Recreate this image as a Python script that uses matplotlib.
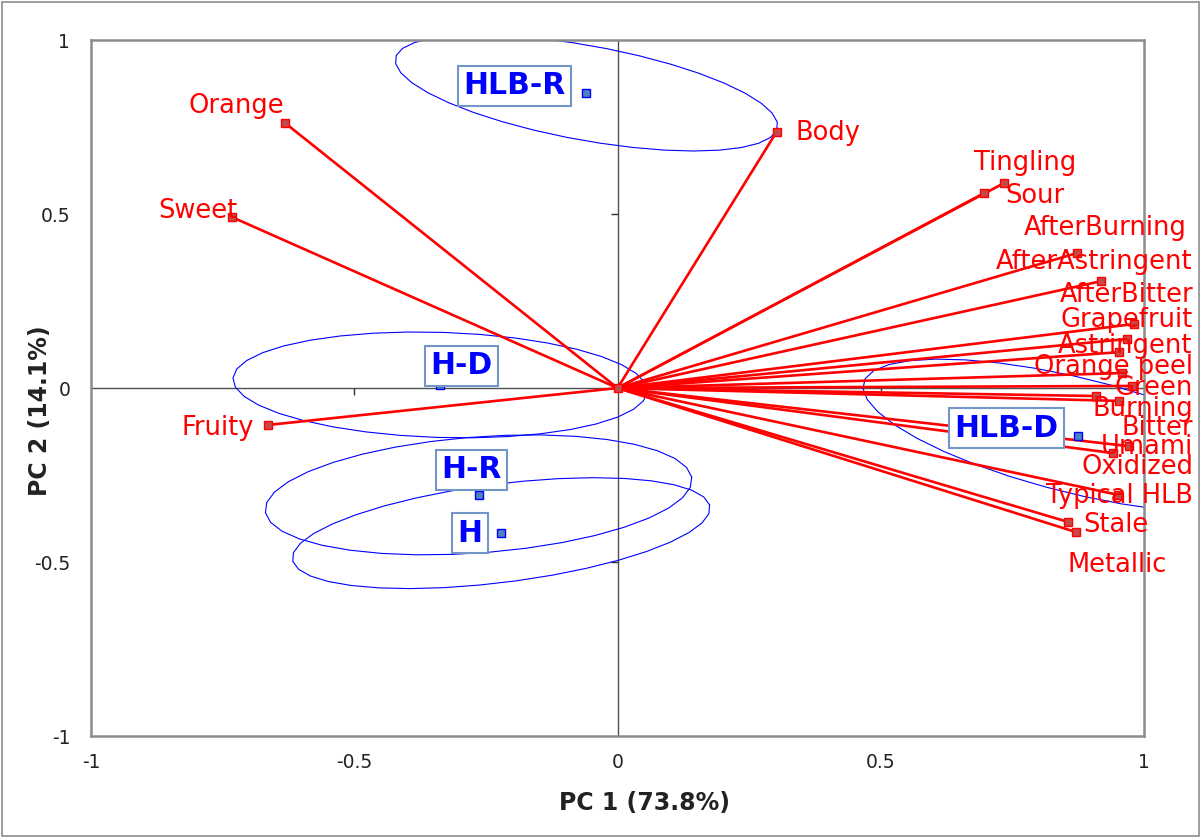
import numpy as np
import matplotlib
matplotlib.use("Agg")
import matplotlib.pyplot as plt
from matplotlib.patches import Rectangle

plt.rcParams['font.family'] = ['DejaVu Sans']

# 感官属性载荷 (red vectors)
var_names = ["Orange", "Sweet", "Fruity", "Body", "Tingling", "Sour",
             "AfterBurning", "AfterAstringent", "AfterBitter", "Grapefruit",
             "Astringent", "Orange peel", "Green", "Burning", "Bitter",
             "Umami", "Oxidized", "Typical HLB", "Stale", "Metallic"]
var_x = [-0.631, -0.732, -0.663, 0.302, 0.734, 0.696,
         0.873, 0.918, 0.981, 0.968,
         0.952, 0.958, 0.977, 0.909, 0.952,
         0.971, 0.941, 0.951, 0.856, 0.871]
var_y = [0.761, 0.491, -0.106, 0.736, 0.589, 0.560,
         0.388, 0.307, 0.184, 0.141,
         0.103, 0.043, 0.006, -0.023, -0.037,
         -0.167, -0.187, -0.307, -0.385, -0.414]

# 样品组得分 + 置信椭圆 (semi axes, angle in degrees)
group_names = ["HLB-R", "H-D", "H-R", "H", "HLB-D"]
group_x = [-0.059, -0.337, -0.264, -0.221, 0.875]
group_y = [0.848, 0.009, -0.307, -0.417, -0.138]
ell_a = [0.377, 0.394, 0.408, 0.404, 0.437]
ell_b = [0.133, 0.151, 0.166, 0.140, 0.159]
ell_angle = [-16.6, -2.9, 7.2, 11.6, -22.2]

x_label = "PC 1 (73.8%)"
y_label = "PC 2 (14.1%)"
tick_vals = [-1, -0.5, 0, 0.5, 1]
tick_text = ["-1", "-0.5", "0", "0.5", "1"]

# label placement in pixels from the marker (dx right, dy down, alignment)
var_label_pos = {
    "Orange": (-1, -17, "right"),
    "Sweet": (5, -6, "right"),
    "Fruity": (-14, 3, "right"),
    "Body": (19, 1, "left"),
    "Tingling": (21, -20, "center"),
    "Sour": (21, 3, "left"),
    "AfterBurning": (109, -25, "right"),
    "AfterAstringent": (92, -19, "right"),
    "AfterBitter": (59, -29, "right"),
    "Grapefruit": (66, -19, "right"),
    "Astringent": (73, -6, "right"),
    "Orange peel": (71, -6, "right"),
    "Green": (61, 2, "right"),
    "Burning": (97, 13, "right"),
    "Bitter": (74, 27, "right"),
    "Umami": (64, 1, "right"),
    "Oxidized": (80, 14, "right"),
    "Typical HLB": (75, 1, "right"),
    "Stale": (15, 3, "left"),
    "Metallic": (41, 33, "center"),
}
group_label_pos = {
    "HLB-R": (-72, -7),
    "H-D": (21, -19),
    "H-R": (-7, -25),
    "H": (-31, 0),
    "HLB-D": (-72, -8),
}

fig = plt.figure(figsize=(12.01, 8.38), dpi=100)
ax = fig.add_axes([0.0758, 0.1217, 0.8768, 0.8305])
ax.set_xlim(-1, 1)
ax.set_ylim(-1, 1)

for s in ax.spines.values():
    s.set_color('#8c8c8c')
    s.set_linewidth(1.8)

ax.axhline(0, color='#505050', lw=1.0, zorder=1)
ax.axvline(0, color='#505050', lw=1.0, zorder=1)
# small ticks on the zero lines
ax.plot([-0.5, 0.5], [0, 0], ls='none', marker=3, ms=5, color='#303030', mew=1, zorder=1)
ax.plot([0, 0], [-0.5, 0.5], ls='none', marker=0, ms=5, color='#303030', mew=1, zorder=1)

ax.set_xticks(tick_vals)
ax.set_xticklabels(tick_text)
ax.set_yticks(tick_vals)
ax.set_yticklabels(tick_text)
ax.tick_params(axis='both', length=0, labelsize=13.5, labelcolor='#222222')
ax.tick_params(axis='y', pad=15)
ax.tick_params(axis='x', pad=12)

# ellipses
t = np.linspace(0, 2 * np.pi, 37)
for cx, cy, a, b, ang in zip(group_x, group_y, ell_a, ell_b, ell_angle):
    th = np.radians(ang)
    ex = cx + a * np.cos(t) * np.cos(th) - b * np.sin(t) * np.sin(th)
    ey = cy + a * np.cos(t) * np.sin(th) + b * np.sin(t) * np.cos(th)
    ax.plot(ex, ey, color='#0000ff', lw=0.8, zorder=2)

# vectors
for name, vx, vy in zip(var_names, var_x, var_y):
    ax.plot([0, vx], [0, vy], color='#ff0000', lw=1.9, zorder=3,
            solid_capstyle='butt')
ax.plot(var_x, var_y, ls='none', marker='s', ms=6, mfc='#c84848', mec='#ff0000',
        mew=1, zorder=4)
ax.plot([0], [0], ls='none', marker='s', ms=6, mfc='#c84848', mec='#ff0000',
        mew=1, zorder=4)

for name, vx, vy in zip(var_names, var_x, var_y):
    dx, dy, ha = var_label_pos[name]
    ax.annotate(name, (vx, vy), xytext=(dx, -dy), textcoords='offset pixels',
                ha=ha, va='center', color='#ff0000', fontsize=18.5,
                annotation_clip=False, zorder=5)

# group points
ax.plot(group_x, group_y, ls='none', marker='s', ms=5.5, mfc='#4f81bd',
        mec='#0000ff', mew=1, zorder=6)
for name, gx, gy in zip(group_names, group_x, group_y):
    dx, dy = group_label_pos[name]
    ax.annotate(name, (gx, gy), xytext=(dx, -dy), textcoords='offset pixels',
                ha='center', va='center', color='#0000ff', fontsize=21.5,
                fontweight='bold', zorder=7,
                bbox=dict(boxstyle='square,pad=0.18', fc='white', ec='#7396c8', lw=1.5))

fig.text(0.537, 0.042, x_label, ha='center', va='center', fontsize=17,
         fontweight='bold', color='#222222')
fig.text(0.033, 0.51, y_label, ha='center', va='center', rotation=90,
         fontsize=17, fontweight='bold', color='#222222')

fig.patches.append(Rectangle((0.002, 0.002), 0.996, 0.996, transform=fig.transFigure,
                             fill=False, ec='#8c8c8c', lw=1.2))

fig.savefig('out.png', dpi=100)
